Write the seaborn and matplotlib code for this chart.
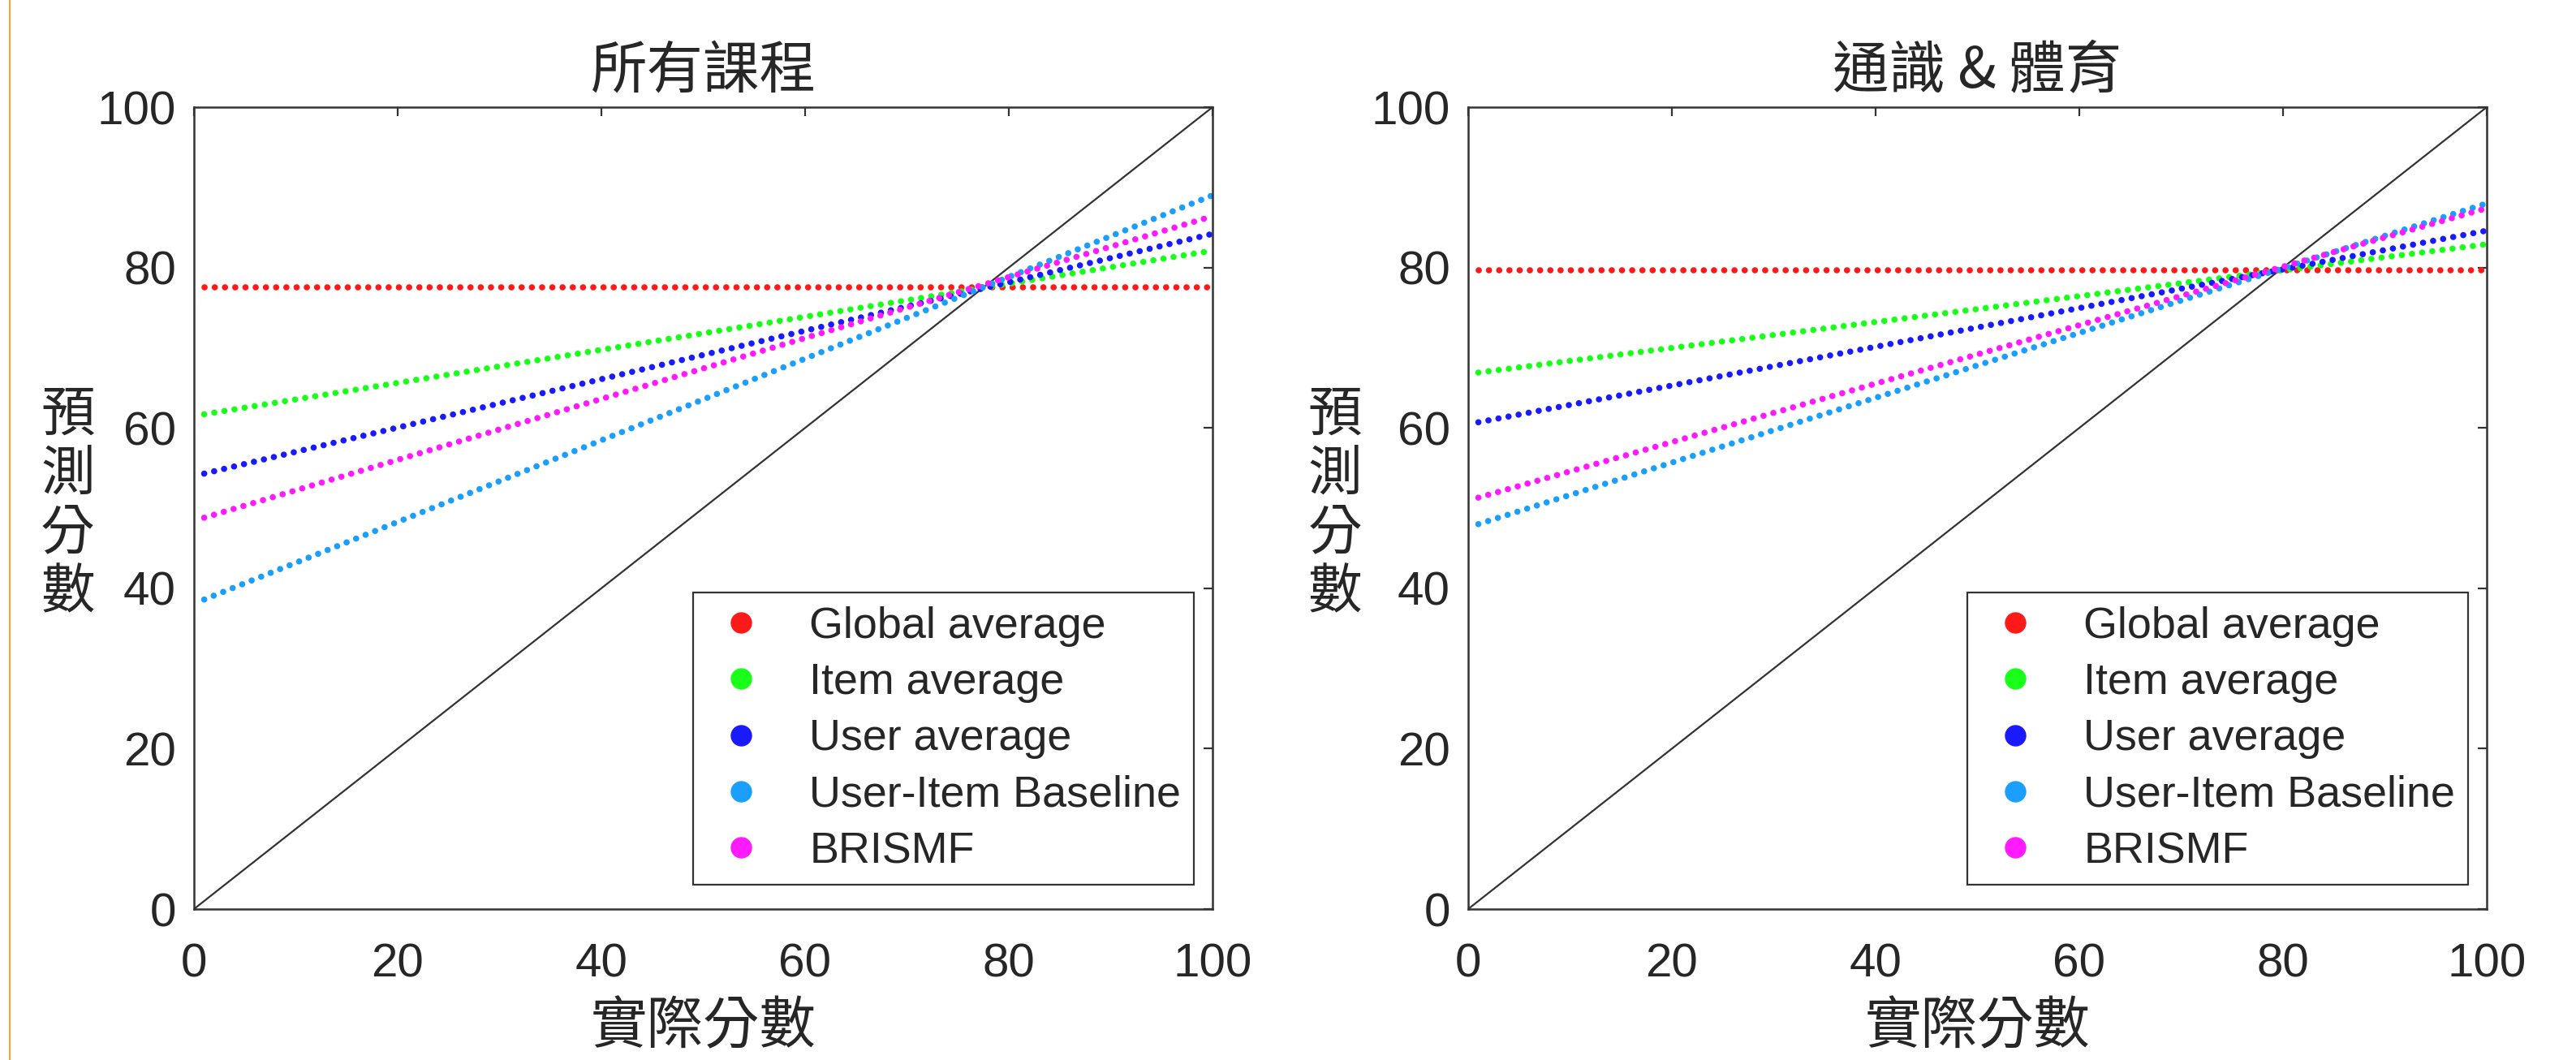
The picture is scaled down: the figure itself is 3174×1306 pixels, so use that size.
import numpy as np
import pandas as pd
import seaborn as sns
import matplotlib.pyplot as plt
from matplotlib.lines import Line2D

methods = ['Global average', 'Item average', 'User average', 'User-Item Baseline', 'BRISMF']
colors = ['#ff1a1a', '#1aff1a', '#1a1aff', '#1a9fff', '#ff1aff']
x_ends = [1, 100]

all_start = [77.5, 61.7, 54.3, 38.6, 48.8]
all_end = [77.5, 82.1, 84.2, 89.0, 86.4]

ge_start = [79.7, 66.9, 60.7, 48.0, 51.3]
ge_end = [79.7, 82.9, 84.6, 88.0, 87.4]

panel_titles = ['所有課程', '通識 & 體育']
ticks = [0, 20, 40, 60, 80, 100]
xlabel = '實際分數'
ylabel = '預\n測\n分\n數'

sns.set_theme(style='white')
plt.rcParams['font.family'] = ['Liberation Sans', 'Noto Sans CJK TC']
cjk = ['Noto Sans CJK TC', 'DejaVu Sans']

W, H = 3174, 1306
fig = plt.figure(figsize=(W / 100, H / 100), dpi=100)

rows = []
for panel, (st, en) in enumerate([(all_start, all_end), (ge_start, ge_end)]):
    for m, a, b in zip(methods, st, en):
        rows.append({'panel': panel, 'method': m, 'x': x_ends[0], 'y': a})
        rows.append({'panel': panel, 'method': m, 'x': x_ends[1], 'y': b})
df = pd.DataFrame(rows)

axes_left = [239, 1809]
ylabel_x = [-0.124, -0.131]
for panel in range(2):
    ax = fig.add_axes([axes_left[panel] / W, (H - 1120) / H, 1255 / W, 988 / H])
    # diagonal reference line
    sns.lineplot(x=[0, 100], y=[0, 100], color='#333333', linewidth=1.6, ax=ax)
    sub = df[df['panel'] == panel]
    for m, c in zip(methods, colors):
        d = sub[sub['method'] == m]
        sns.lineplot(data=d, x='x', y='y', color=c, linewidth=5.5, ax=ax)
        ln = ax.lines[-1]
        ln.set_linestyle((0, (0.01, 1.64)))
        ln.set_dash_capstyle('round')

    ax.set_xlim(0, 100)
    ax.set_ylim(0, 100)
    ax.set_xticks(ticks)
    ax.set_yticks(ticks)
    ax.tick_params(direction='in', length=8, width=1.6, color='#333333',
                   top=True, right=True, labelsize=42, labelcolor='#262626')
    ax.tick_params(axis='x', pad=30)
    ax.tick_params(axis='y', pad=16)
    for s in ax.spines.values():
        s.set_color('#333333')
        s.set_linewidth(1.8)
        s.set_visible(True)
    ax.set_xlabel('')
    ax.set_ylabel('')

    ax.text(0.5, 1.0435, panel_titles[panel], transform=ax.transAxes,
            family=cjk, fontsize=50, ha='center', va='center')
    ax.text(0.5, -0.147, xlabel, transform=ax.transAxes,
            family=cjk, fontsize=50, ha='center', va='center')
    ax.text(ylabel_x[panel], 0.505, ylabel, transform=ax.transAxes,
            family=cjk, fontsize=48, ha='center', va='center', linespacing=1.1)

    handles = [Line2D([], [], linestyle='none', marker='o', markersize=18,
                      markerfacecolor=c, markeredgecolor=c) for c in colors]
    leg = ax.legend(handles, methods, loc='lower right',
                    bbox_to_anchor=(0.982, 0.030), borderaxespad=0,
                    fontsize=38.8, handlelength=1.6, handletextpad=0.76,
                    labelspacing=0.36, borderpad=0.3, frameon=True,
                    fancybox=False, framealpha=1)
    leg.get_frame().set_edgecolor('#333333')
    leg.get_frame().set_linewidth(1.6)

fig.add_artist(Line2D([12 / W, 12 / W], [0, 1], transform=fig.transFigure,
                      color='#f4a533', linewidth=1.5))

fig.savefig('out.png', dpi=100, facecolor='white')
